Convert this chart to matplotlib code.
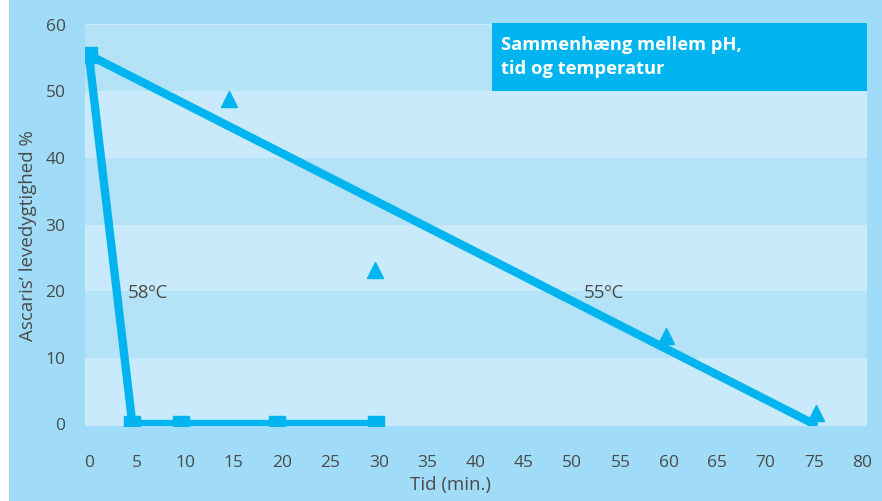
import matplotlib.pyplot as plt
from matplotlib.patches import Rectangle

# data
t58 = [0, 4.5, 9.5, 19.5, 29.7]
v58 = [55.5, 0, 0, 0, 0]
t55_line = [0, 75]
v55_line = [55.5, 0]
t55_obs = [14.5, 29.6, 59.7, 75.2]
v55_obs = [48.8, 23.2, 13.3, 1.7]
x_ticks = list(range(0, 85, 5))
y_ticks = list(range(0, 70, 10))

BG = "#a0dcf7"
LIGHT = "#c8eafb"
DARK = "#b4e3f8"
CYAN = "#00b5ef"
TXT = "#4a4a4a"

plt.rcParams["font.family"] = ["Open Sans", "DejaVu Sans"]

fig = plt.figure(figsize=(8.82, 5.01), dpi=100, facecolor=BG)
fig.patches.append(Rectangle((0, 0), 9 / 882, 1, transform=fig.transFigure,
                             facecolor="white", edgecolor="none", zorder=0))
ax = fig.add_axes([85 / 882, 75 / 501, 782 / 882, 402 / 501])
ax.set_facecolor(LIGHT)

for lo in range(10, 60, 20):
    ax.axhspan(lo, lo + 10, color=DARK, lw=0, zorder=0)

ax.plot(t55_line, v55_line, color=CYAN, lw=6, solid_capstyle="round", zorder=3)
ax.plot(t58, v58, color=CYAN, lw=6, marker="s", markersize=11.5, zorder=4)
ax.plot(t55_obs, v55_obs, color=CYAN, lw=0, marker="^", markersize=11, zorder=4)

ax.text(4.0, 19.7, "58ºC", color=TXT, fontsize=13.5, ha="left", va="center")
ax.text(51.2, 19.7, "55ºC", color=TXT, fontsize=13.5, ha="left", va="center")

ax.set_xlim(-0.4, 80.5)
ax.set_ylim(-0.3, 60.15)
ax.set_xticks(x_ticks)
ax.set_yticks(y_ticks)
ax.tick_params(length=0, labelsize=12.5, labelcolor=TXT)
ax.tick_params(axis="x", pad=21)
ax.tick_params(axis="y", pad=14)
for s in ax.spines.values():
    s.set_visible(False)

ax.set_xlabel("Tid (min.)", color=TXT, fontsize=13.5)
ax.xaxis.set_label_coords(0.467, -0.147)
ax.set_ylabel("Ascaris’ levedygtighed %", color=TXT, fontsize=13.5)
ax.yaxis.set_label_coords(-0.073, 0.473)
ax.xaxis.label.set_va("center")
ax.yaxis.label.set_va("center")

# title box in the top right
fig.patches.append(Rectangle((492 / 882, 1 - 91 / 501), 375 / 882, 68 / 501,
                             transform=fig.transFigure, facecolor=CYAN,
                             edgecolor="none", zorder=5))
fig.text(501 / 882, 1 - 57 / 501, "Sammenhæng mellem pH,\ntid og temperatur",
         color="white", fontsize=13.2, fontweight="bold", ha="left", va="center",
         linespacing=1.45, zorder=6)

fig.savefig("out.png", dpi=100, facecolor=BG)
